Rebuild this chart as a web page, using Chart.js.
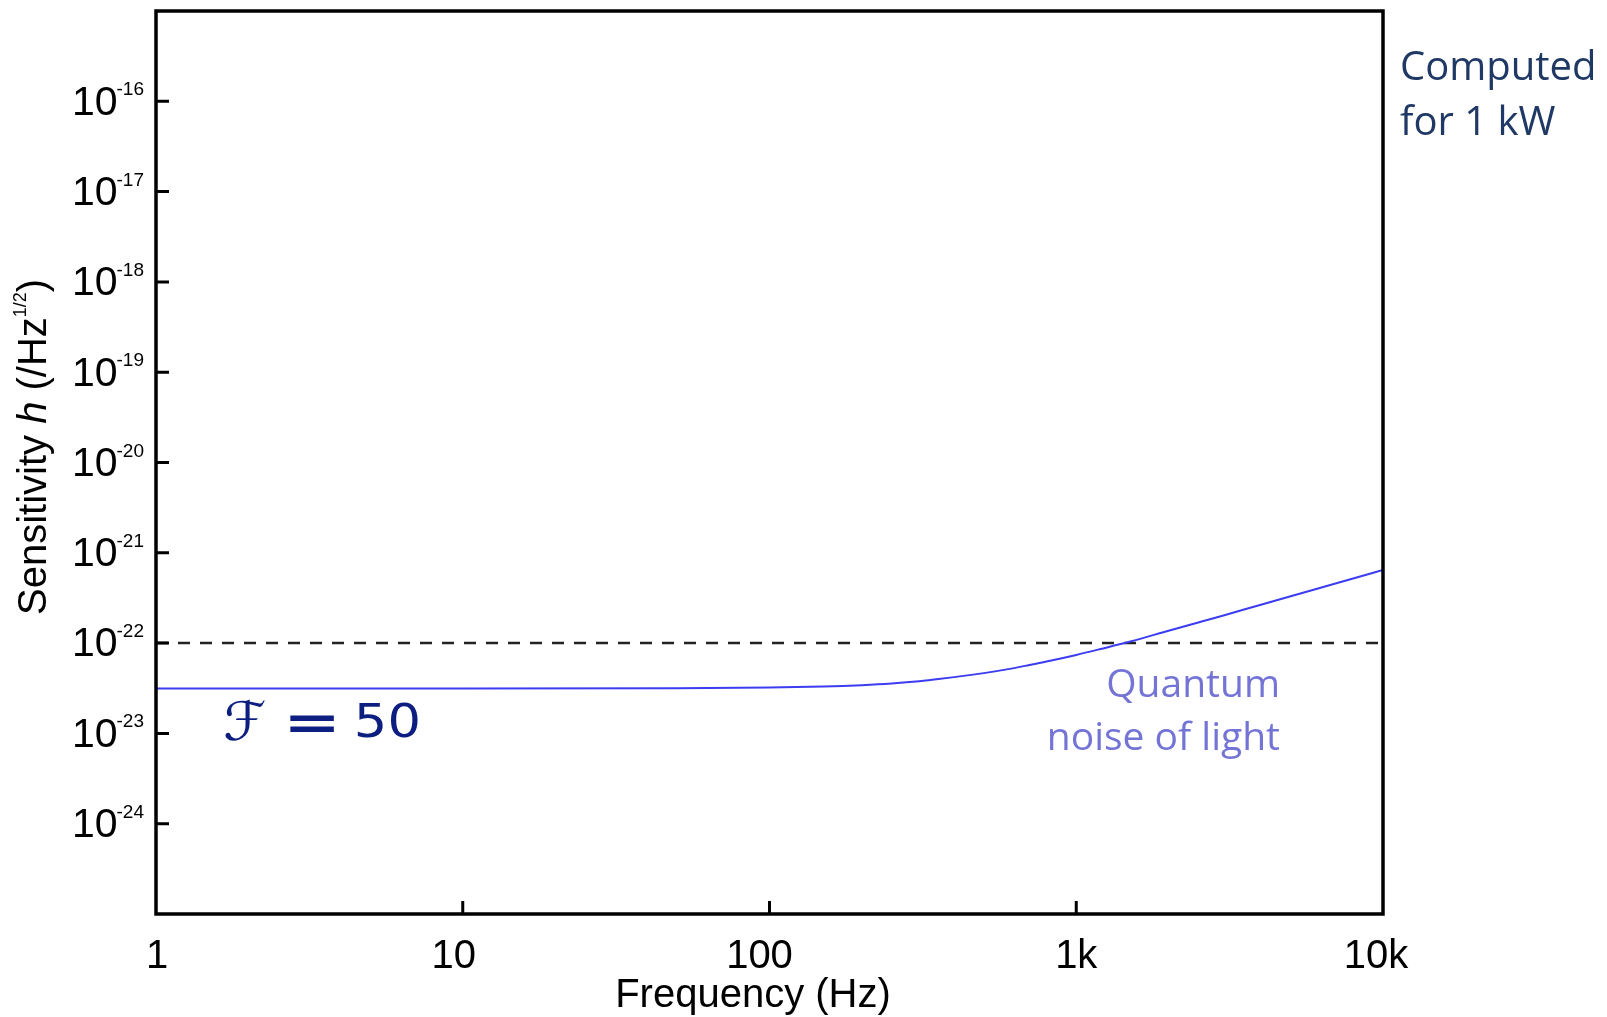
<!DOCTYPE html>
<html>
<head>
<meta charset="utf-8">
<title>Sensitivity</title>
<script src="https://cdn.jsdelivr.net/npm/chart.js@4.4.1/dist/chart.umd.min.js"></script>
<style>
  html, body { margin: 0; padding: 0; background: #fff; }
  #wrap { width: 1607px; height: 1017px; }
</style>
</head>
<body>
<div id="wrap"><canvas id="sens" width="1607" height="1017"></canvas></div>
<script>
// quantum noise curve, read along the frequency axis
const freqHz = [1, 10, 50, 100, 150, 200, 250, 300, 350, 400, 500, 600, 700, 800, 1000, 1200, 1500,
                2000, 2500, 3000, 4000, 5000, 7000, 10000];
const quantumNoise = [3.15e-23, 3.15e-23, 3.17e-23, 3.22e-23, 3.3e-23, 3.42e-23, 3.57e-23, 3.76e-23, 3.98e-23,
                      4.2e-23, 4.65e-23, 5.15e-23, 5.7e-23, 6.25e-23, 7.4e-23, 8.6e-23, 1.04e-22,
                      1.37e-22, 1.69e-22, 2.01e-22, 2.66e-22, 3.3e-22, 4.58e-22, 6.45e-22];

// horizontal reference level
const refFreq = [1, 10000];
const refLevel = [1e-22, 1e-22];

const xTicks = [1, 10, 100, 1000, 10000];
const xTickLabels = ['1', '10', '100', '1k', '10k'];
const yExponents = [-24, -23, -22, -21, -20, -19, -18, -17, -16];

const SANS = '"Liberation Sans", Arial, sans-serif';

// draw a string so that its ink fills the box (x0,y0)-(x1,y1)
function fitInk(ctx, txt, font, x0, y0, x1, y1) {
  ctx.save();
  ctx.font = font;
  ctx.textAlign = 'left';
  ctx.textBaseline = 'alphabetic';
  const m = ctx.measureText(txt);
  const w = m.actualBoundingBoxLeft + m.actualBoundingBoxRight;
  const h = m.actualBoundingBoxAscent + m.actualBoundingBoxDescent;
  ctx.translate(x0, y0);
  ctx.scale((x1 - x0) / w, (y1 - y0) / h);
  ctx.fillText(txt, m.actualBoundingBoxLeft, m.actualBoundingBoxAscent);
  ctx.restore();
}

const frameAndText = {
  id: 'frameAndText',
  afterDraw(chart) {
    const { ctx, chartArea: a, scales: { x, y } } = chart;
    ctx.save();

    // box
    ctx.strokeStyle = '#000';
    ctx.lineWidth = 3.5;
    ctx.strokeRect(a.left, a.top, a.right - a.left, a.bottom - a.top);

    // inward tick marks
    ctx.lineWidth = 3;
    ctx.beginPath();
    yExponents.forEach(e => {
      const py = y.getPixelForValue(Math.pow(10, e));
      ctx.moveTo(a.left, py);
      ctx.lineTo(a.left + 13, py);
    });
    xTicks.slice(1, -1).forEach(v => {
      const px = x.getPixelForValue(v);
      ctx.moveTo(px, a.bottom);
      ctx.lineTo(px, a.bottom - 13);
    });
    ctx.stroke();

    // y tick labels: 10 with superscript exponent
    ctx.fillStyle = '#000';
    yExponents.forEach(e => {
      const py = y.getPixelForValue(Math.pow(10, e));
      const sup = String(e);
      ctx.font = '19px ' + SANS;
      ctx.textAlign = 'right';
      ctx.textBaseline = 'alphabetic';
      const supW = ctx.measureText(sup).width;
      ctx.fillText(sup, 144, py - 6);
      ctx.font = '41px ' + SANS;
      ctx.textBaseline = 'middle';
      ctx.fillText('10', 144 - supW + 1, py + 2);
    });

    // x tick labels
    const nudge = [1, -9, -10, 0, -7];
    ctx.font = '40px ' + SANS;
    ctx.textAlign = 'center';
    ctx.textBaseline = 'middle';
    xTicks.forEach((v, i) => {
      ctx.fillText(xTickLabels[i], x.getPixelForValue(v) + nudge[i], 957);
    });

    // x axis title
    ctx.fillText('Frequency (Hz)', 753, 996);

    // y axis title, rotated
    ctx.save();
    ctx.translate(46, 615);
    ctx.rotate(-Math.PI / 2);
    ctx.textAlign = 'left';
    ctx.textBaseline = 'alphabetic';
    let cx = 0;
    const part = (txt, font, dy) => {
      ctx.font = font;
      ctx.fillText(txt, cx, dy);
      cx += ctx.measureText(txt).width;
    };
    part('Sensitivity ', '40px ' + SANS, 0);
    part('h', 'italic 40px ' + SANS, 0);
    part(' (/Hz', '40px ' + SANS, 0);
    part('1/2', '18px ' + SANS, -20);
    part(')', '40px ' + SANS, 0);
    ctx.restore();

    // annotations
    ctx.textAlign = 'right';
    ctx.textBaseline = 'alphabetic';
    ctx.fillStyle = '#7474d6';
    ctx.font = '39px "Open Sans", sans-serif';
    ctx.fillText('Quantum', 1280, 697);
    ctx.fillText('noise of light', 1280, 750);

    ctx.textAlign = 'left';
    ctx.fillStyle = '#1f3864';
    ctx.font = '40px "Open Sans", sans-serif';
    ctx.fillText('Computed', 1400, 80);
    ctx.fillText('for 1 kW', 1400, 135);

    ctx.fillStyle = '#0c1f80';
    fitInk(ctx, '\u2131', '60px "DejaVu Sans", sans-serif', 225, 699, 265, 741);
    fitInk(ctx, '=', 'bold 60px "DejaVu Sans", sans-serif', 290, 715, 334, 732);
    fitInk(ctx, '50', '50px "DejaVu Sans", sans-serif', 357, 703, 418, 738);

    ctx.restore();
  }
};

new Chart(document.getElementById('sens'), {
  type: 'line',
  data: {
    datasets: [
      {
        label: 'Quantum noise',
        data: freqHz.map((f, i) => ({ x: f, y: quantumNoise[i] })),
        borderColor: '#3c3cf0',
        borderWidth: 2,
        pointRadius: 0,
        cubicInterpolationMode: 'monotone',
        fill: false
      },
      {
        label: 'Reference',
        data: refFreq.map((f, i) => ({ x: f, y: refLevel[i] })),
        borderColor: '#222',
        borderWidth: 2.5,
        borderDash: [12, 10],
        pointRadius: 0,
        fill: false
      }
    ]
  },
  options: {
    responsive: false,
    animation: false,
    events: [],
    layout: { padding: { left: 156, top: 11, right: 224, bottom: 103 } },
    plugins: { legend: { display: false }, tooltip: { enabled: false } },
    scales: {
      x: {
        type: 'logarithmic',
        min: 1,
        max: 10000,
        grid: { display: false, drawTicks: false },
        border: { display: false },
        ticks: { display: false }
      },
      y: {
        type: 'logarithmic',
        min: 1e-25,
        max: 1e-15,
        grid: { display: false, drawTicks: false },
        border: { display: false },
        ticks: { display: false }
      }
    }
  },
  plugins: [frameAndText]
});
</script>
</body>
</html>
